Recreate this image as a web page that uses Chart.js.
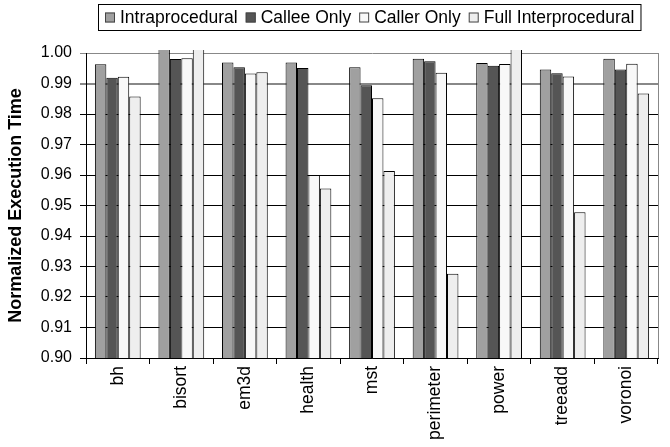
<!DOCTYPE html>
<html>
<head>
<meta charset="utf-8">
<script src="https://cdn.jsdelivr.net/npm/chart.js@4/dist/chart.umd.min.js"></script>
<style>
html,body{margin:0;padding:0;background:#fff;}
#wrap{width:670px;height:447px;position:relative;}
</style>
</head>
<body>
<div id="wrap"><canvas id="c" width="670" height="447"></canvas></div>
<script>
const categories = ['bh','bisort','em3d','health','mst','perimeter','power','treeadd','voronoi'];
const seriesNames = ['Intraprocedural','Callee Only','Caller Only','Full Interprocedural'];
const intraprocedural     = [0.9963, 1.0020, 0.9969, 0.9969, 0.9953, 0.9981, 0.9967, 0.9946, 0.9981];
const calleeOnly          = [0.9919, 0.9980, 0.9953, 0.9951, 0.9894, 0.9973, 0.9958, 0.9934, 0.9946];
const callerOnly          = [0.9922, 0.9983, 0.9933, 0.9600, 0.9852, 0.9935, 0.9964, 0.9923, 0.9965];
const fullInterprocedural = [0.9857, 1.0020, 0.9937, 0.9556, 0.9613, 0.9276, 1.0020, 0.9478, 0.9867];
const yMin = 0.90, yMax = 1.00, yStep = 0.01;
const colors = ['#A0A0A0', '#555555', '#F8F8F8', '#EEEEEE'];
const FONT = "'Liberation Sans', Arial, sans-serif";

const seriesValues = [intraprocedural, calleeOnly, callerOnly, fullInterprocedural];

const legendBox = {
  id: 'legendBox',
  afterDraw(chart) {
    const ctx = chart.ctx;
    ctx.save();
    ctx.font = '17.5px ' + FONT;
    ctx.textBaseline = 'middle';
    const x0 = 98, y0 = 4, h = 26, box = 10, gapBoxText = 5, gapItem = 8;
    let x = x0 + 7;
    const cy = y0 + h / 2 + 0.5;
    chart.data.datasets.forEach((ds, i) => {
      ctx.fillStyle = ds.backgroundColor;
      ctx.fillRect(x, cy - box / 2, box, box);
      ctx.strokeStyle = '#444';
      ctx.lineWidth = 1;
      ctx.strokeRect(x + 0.5, cy - box / 2 + 0.5, box - 1, box - 1);
      x += box + gapBoxText;
      ctx.fillStyle = '#000';
      ctx.fillText(ds.label, x, cy + 1);
      x += ctx.measureText(ds.label).width + gapItem;
    });
    const w = x - gapItem + 6 - x0;
    ctx.strokeStyle = '#000';
    ctx.lineWidth = 1;
    ctx.strokeRect(x0 + 0.5, y0 + 0.5, w, h);
    // right border of plot area
    const a = chart.chartArea;
    ctx.strokeStyle = '#888';
    ctx.beginPath();
    ctx.moveTo(a.right + 0.5, a.top);
    ctx.lineTo(a.right + 0.5, a.bottom);
    ctx.stroke();
    ctx.restore();
  }
};

new Chart(document.getElementById('c'), {
  type: 'bar',
  data: {
    labels: categories,
    datasets: seriesValues.map((vals, i) => ({
      label: seriesNames[i],
      data: vals,
      backgroundColor: colors[i],
      borderColor: '#000',
      borderWidth: 1,
      borderSkipped: 'bottom',
      categoryPercentage: 0.72,
      barPercentage: 1.0,
      clip: {left: 0, right: 0, top: 3, bottom: 0}
    }))
  },
  options: {
    responsive: false,
    animation: false,
    devicePixelRatio: 1,
    layout: { padding: { top: 53, right: 12, left: 0, bottom: 0 } },
    plugins: { legend: { display: false }, tooltip: { enabled: false } },
    scales: {
      x: {
        offset: true,
        afterFit: s => { s.height = 89; },
        grid: { offset: true, drawOnChartArea: false, drawTicks: true, tickLength: 6, color: '#000', lineWidth: 1 },
        border: { display: true, color: '#000', width: 1 },
        ticks: {
          minRotation: 90, maxRotation: 90, autoSkip: false, padding: 2,
          color: '#000', font: { family: FONT, size: 17.5 }
        }
      },
      y: {
        min: yMin, max: yMax,
        afterFit: s => { s.width = 86; },
        afterBuildTicks: s => {
          const t = [];
          for (let i = 0; i <= Math.round((yMax - yMin) / yStep); i++) t.push({ value: +(yMin + i * yStep).toFixed(2) });
          s.ticks = t;
        },
        grid: {
          color: c => (c.tick && (Math.abs(c.tick.value - 1.0) < 1e-6 || Math.abs(c.tick.value - 0.99) < 1e-6)) ? '#888' : '#000',
          lineWidth: c => (c.tick && Math.abs(c.tick.value - 0.99) < 1e-6) ? 2 : 1,
          tickLength: 6,
          drawTicks: true
        },
        border: { display: true, color: '#000', width: 1 },
        ticks: {
          padding: 8, color: '#000', font: { family: FONT, size: 16 },
          callback: v => Number(v).toFixed(2)
        },
        title: {
          display: true, text: 'Normalized Execution Time', color: '#000',
          font: { family: FONT, size: 18, weight: 'bold' }, padding: { top: 5, bottom: 0 }
        }
      }
    }
  },
  plugins: [legendBox]
});
</script>
</body>
</html>
